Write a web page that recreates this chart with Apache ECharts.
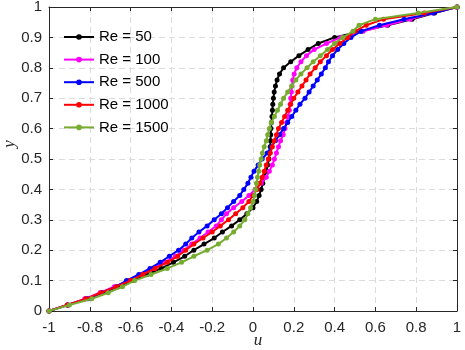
<!DOCTYPE html>
<html>
<head>
<meta charset="utf-8">
<script src="https://cdn.jsdelivr.net/npm/echarts@6/dist/echarts.min.js"></script>
<style>
  html, body { margin: 0; padding: 0; background: #fff; }
  #chart { width: 465px; height: 350px; }
</style>
</head>
<body>
<div id="chart"></div>
<script>
// y positions shared by every profile
const yVals = [0, 0.02, 0.04, 0.06, 0.08, 0.1, 0.12, 0.14, 0.16, 0.18,
  0.2, 0.22, 0.24, 0.26, 0.28, 0.3, 0.32, 0.34, 0.36, 0.38,
  0.4, 0.42, 0.44, 0.46, 0.48, 0.5, 0.52, 0.54, 0.56, 0.58,
  0.6, 0.62, 0.64, 0.66, 0.68, 0.7, 0.72, 0.74, 0.76, 0.78,
  0.8, 0.82, 0.84, 0.86, 0.88, 0.9, 0.92, 0.94, 0.96, 0.98, 1];

// u at each y
const uRe50 = [-1, -0.91, -0.82, -0.74, -0.66, -0.59, -0.52, -0.45, -0.39, -0.335,
  -0.29, -0.24, -0.19, -0.15, -0.105, -0.065, -0.03, 0, 0.018, 0.03,
  0.04, 0.048, 0.055, 0.065, 0.072, 0.078, 0.082, 0.084, 0.086, 0.087,
  0.088, 0.09, 0.093, 0.095, 0.097, 0.1, 0.104, 0.11, 0.118, 0.13,
  0.15, 0.185, 0.225, 0.27, 0.32, 0.4, 0.53, 0.66, 0.78, 0.89, 1];

const uRe100 = [-1, -0.91, -0.825, -0.75, -0.68, -0.61, -0.55, -0.49, -0.435, -0.38,
  -0.34, -0.3, -0.26, -0.22, -0.18, -0.155, -0.13, -0.095, -0.055, -0.02,
  0.01, 0.04, 0.065, 0.08, 0.095, 0.105, 0.115, 0.125, 0.135, 0.148,
  0.157, 0.165, 0.172, 0.178, 0.182, 0.185, 0.188, 0.191, 0.195, 0.202,
  0.215, 0.235, 0.262, 0.3, 0.36, 0.43, 0.54, 0.655, 0.77, 0.88, 1];

const uRe500 = [-1, -0.905, -0.81, -0.74, -0.67, -0.62, -0.56, -0.505, -0.455, -0.41,
  -0.365, -0.33, -0.3, -0.265, -0.225, -0.19, -0.155, -0.125, -0.095, -0.065,
  -0.045, -0.025, -0.01, 0.005, 0.025, 0.045, 0.07, 0.09, 0.11, 0.13,
  0.15, 0.17, 0.19, 0.21, 0.23, 0.255, 0.275, 0.295, 0.315, 0.335,
  0.355, 0.37, 0.39, 0.415, 0.445, 0.48, 0.53, 0.62, 0.74, 0.885, 1];

const uRe1000 = [-1, -0.91, -0.82, -0.745, -0.67, -0.6, -0.54, -0.48, -0.42, -0.37,
  -0.33, -0.29, -0.245, -0.2, -0.16, -0.12, -0.085, -0.05, -0.02, 0,
  0.02, 0.033, 0.045, 0.055, 0.065, 0.075, 0.085, 0.095, 0.105, 0.115,
  0.125, 0.14, 0.155, 0.17, 0.185, 0.2, 0.22, 0.24, 0.26, 0.28,
  0.305, 0.33, 0.36, 0.39, 0.425, 0.465, 0.5, 0.555, 0.64, 0.84, 1];

const uRe1500 = [-1, -0.9, -0.79, -0.71, -0.64, -0.58, -0.5, -0.42, -0.35, -0.29,
  -0.225, -0.17, -0.13, -0.095, -0.065, -0.04, -0.025, -0.012, 0, 0.008,
  0.012, 0.017, 0.022, 0.028, 0.033, 0.04, 0.046, 0.055, 0.065, 0.072,
  0.08, 0.09, 0.105, 0.12, 0.135, 0.15, 0.17, 0.19, 0.21, 0.235,
  0.265, 0.295, 0.33, 0.365, 0.4, 0.44, 0.49, 0.52, 0.6, 0.81, 1];

const names = ["Re = 50", "Re = 100", "Re = 500", "Re = 1000", "Re = 1500"];
const profiles = [uRe50, uRe100, uRe500, uRe1000, uRe1500];
const colors = ["#000000", "#ff00ff", "#0000ff", "#ff0000", "#77ac30"];

const xTicks = [-1, -0.8, -0.6, -0.4, -0.2, 0, 0.2, 0.4, 0.6, 0.8, 1];

const axisColor = "#262626";
const labelFont = { color: axisColor, fontSize: 15, fontFamily: "Liberation Sans, Arial, sans-serif" };

function boxAxis(extra) {
  return Object.assign({
    type: "value",
    axisLine: { show: true, onZero: false, lineStyle: { color: axisColor, width: 1 } },
    axisTick: { show: true, inside: true, length: 4, lineStyle: { color: axisColor } },
    axisLabel: { show: false },
    splitLine: { show: false },
  }, extra);
}

const chart = echarts.init(document.getElementById("chart"), null, { renderer: "canvas" });

chart.setOption({
  animation: false,
  backgroundColor: "#fff",
  grid: { left: 49, right: 8, top: 7, bottom: 39, containLabel: false, outerBoundsMode: "none" },
  legend: {
    orient: "vertical",
    left: 63,
    top: 29,
    padding: 0,
    itemWidth: 30,
    itemHeight: 7,
    itemGap: 6.6,
    data: names,
    textStyle: { color: "#000", fontSize: 15, lineHeight: 16, fontFamily: "Liberation Sans, Arial, sans-serif" },
  },
  xAxis: [
    boxAxis({
      min: -1, max: 1, interval: 0.2,
      name: "u",
      nameLocation: "middle",
      nameGap: 21,
      nameMoveOverlap: false,
      nameTextStyle: { fontFamily: "Liberation Serif, DejaVu Serif, serif", fontStyle: "italic", fontSize: 17, color: axisColor, padding: [0, 0, 0, 10] },
      axisLabel: {
        show: true, margin: 9, ...labelFont,
        formatter: (v) => {
          const t = xTicks.find((k) => Math.abs(k - v) < 1e-6);
          return t === undefined ? "" : String(t);
        },
      },
      splitLine: { show: true, lineStyle: { color: "#dcdcdc", type: [6, 4], width: 1 } },
    }),
    boxAxis({ min: -1, max: 1, interval: 0.2, position: "top" }),
  ],
  yAxis: [
    boxAxis({
      min: 0, max: 1, interval: 0.1,
      name: "y",
      nameLocation: "middle",
      nameGap: 31,
      nameMoveOverlap: false,
      nameTextStyle: { fontFamily: "Liberation Serif, DejaVu Serif, serif", fontStyle: "italic", fontSize: 17, color: axisColor, padding: [0, 0, 0, 30] },
      axisLabel: { show: true, margin: 7, ...labelFont, formatter: (v) => String(Math.round(v * 10) / 10) },
      splitLine: { show: true, lineStyle: { color: "#dcdcdc", type: [6, 4], width: 1 } },
    }),
    boxAxis({ min: 0, max: 1, interval: 0.1, position: "right" }),
  ],
  series: profiles.map((u, i) => ({
    name: names[i],
    type: "line",
    xAxisIndex: 0,
    yAxisIndex: 0,
    data: u.map((val, j) => [val, yVals[j]]),
    symbol: "circle",
    symbolSize: 5,
    showSymbol: true,
    color: colors[i],
    lineStyle: { color: colors[i], width: 2 },
    itemStyle: { color: colors[i] },
    z: 2 + i,
  })),
});
</script>
</body>
</html>
